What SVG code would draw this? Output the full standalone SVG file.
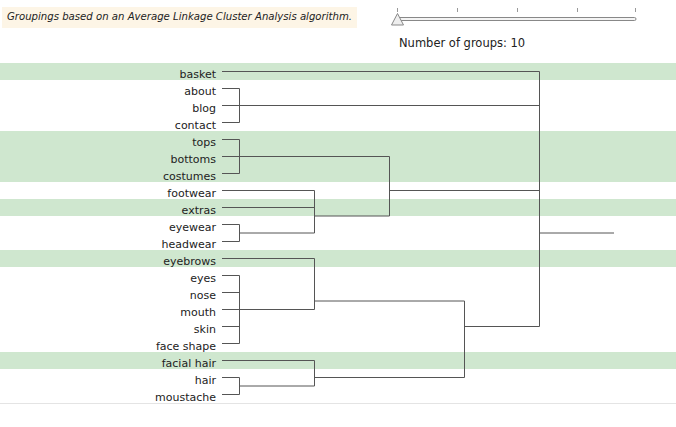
<svg xmlns="http://www.w3.org/2000/svg" width="676" height="427" viewBox="0 0 676 427">
<style>
.band{fill:#cfe7cf}
.lbl{font-family:"DejaVu Sans",Verdana,sans-serif;font-size:11px;fill:#222;text-anchor:end}
.con{fill:none;stroke:#555;stroke-width:1}
.tick{stroke:#999;stroke-width:1}
</style>
<rect width="676" height="427" fill="#ffffff"/>
<g id="title">
<rect x="2" y="7" width="355" height="21" fill="#fdf5e6"/>
<text x="7" y="20" font-family="'DejaVu Sans',Verdana,sans-serif" font-size="10" font-style="italic" fill="#222" textLength="345" lengthAdjust="spacingAndGlyphs">Groupings based on an Average Linkage Cluster Analysis algorithm.</text>
</g>
<g id="slider">
<line class="tick" x1="397.5" y1="8" x2="397.5" y2="12"/>
<line class="tick" x1="457.5" y1="8" x2="457.5" y2="12"/>
<line class="tick" x1="517.5" y1="8" x2="517.5" y2="12"/>
<line class="tick" x1="577.5" y1="8" x2="577.5" y2="12"/>
<line class="tick" x1="635.5" y1="8" x2="635.5" y2="12"/>
<rect x="398" y="17.5" width="238" height="3" rx="1.5" fill="#f4f4f4" stroke="#888" stroke-width="1"/>
<polygon points="397.5,13.5 391.5,25 403.5,25" fill="#eeeeee" stroke="#888" stroke-width="1"/>
<text x="399" y="46.5" font-family="'DejaVu Sans',Verdana,sans-serif" font-size="11.5" fill="#222">Number of groups: 10</text>
</g>
<g id="bands">
<rect class="band" x="0" y="63" width="676" height="17"/>
<rect class="band" x="0" y="131" width="676" height="51"/>
<rect class="band" x="0" y="199" width="676" height="17"/>
<rect class="band" x="0" y="250" width="676" height="17"/>
<rect class="band" x="0" y="352" width="676" height="17"/>
</g>
<line x1="0" y1="403.5" x2="676" y2="403.5" stroke="#e4e4e4" stroke-width="1"/>
<g id="connectors" class="con">
<path d="M222 71.5H539.5"/>
<path d="M222 88.5H239.5M222 105.5H239.5M222 122.5H239.5M239.5 88.5V122.5M239.5 105.5H539.5"/>
<path d="M222 139.5H239.5M222 156.5H239.5M222 173.5H239.5M239.5 139.5V173.5M239.5 156.5H389.5"/>
<path d="M222 224.5H239.5M222 241.5H239.5M239.5 224.5V241.5M239.5 233H314.5"/>
<path d="M222 190.5H314.5M222 207.5H314.5M314.5 190.5V233M314.5 216H389.5"/>
<path d="M389.5 156.5V216M389.5 190.5H539.5"/>
<path d="M222 275.5H239.5M222 292.5H239.5M222 309.5H239.5M222 326.5H239.5M222 343.5H239.5M239.5 275.5V343.5M239.5 309.5H314.5"/>
<path d="M222 258.5H314.5M314.5 258.5V309.5M314.5 301H464.5"/>
<path d="M222 377.5H239.5M222 394.5H239.5M239.5 377.5V394.5M239.5 386H314.5"/>
<path d="M222 360.5H314.5M314.5 360.5V386M314.5 377.5H464.5"/>
<path d="M464.5 301V377.5M464.5 326.5H539.5"/>
<path d="M539.5 71.5V326.5M539.5 233H614"/>
</g>
<g id="n-basket"><text class="lbl" x="216" y="77.5">basket</text></g>
<g id="n-about"><text class="lbl" x="216" y="94.5">about</text></g>
<g id="n-blog"><text class="lbl" x="216" y="111.5">blog</text></g>
<g id="n-contact"><text class="lbl" x="216" y="128.5">contact</text></g>
<g id="n-tops"><text class="lbl" x="216" y="145.5">tops</text></g>
<g id="n-bottoms"><text class="lbl" x="216" y="162.5">bottoms</text></g>
<g id="n-costumes"><text class="lbl" x="216" y="179.5">costumes</text></g>
<g id="n-footwear"><text class="lbl" x="216" y="196.5">footwear</text></g>
<g id="n-extras"><text class="lbl" x="216" y="213.5">extras</text></g>
<g id="n-eyewear"><text class="lbl" x="216" y="230.5">eyewear</text></g>
<g id="n-headwear"><text class="lbl" x="216" y="247.5">headwear</text></g>
<g id="n-eyebrows"><text class="lbl" x="216" y="264.5">eyebrows</text></g>
<g id="n-eyes"><text class="lbl" x="216" y="281.5">eyes</text></g>
<g id="n-nose"><text class="lbl" x="216" y="298.5">nose</text></g>
<g id="n-mouth"><text class="lbl" x="216" y="315.5">mouth</text></g>
<g id="n-skin"><text class="lbl" x="216" y="332.5">skin</text></g>
<g id="n-face-shape"><text class="lbl" x="216" y="349.5">face shape</text></g>
<g id="n-facial-hair"><text class="lbl" x="216" y="366.5">facial hair</text></g>
<g id="n-hair"><text class="lbl" x="216" y="383.5">hair</text></g>
<g id="n-moustache"><text class="lbl" x="216" y="400.5">moustache</text></g>
</svg>
